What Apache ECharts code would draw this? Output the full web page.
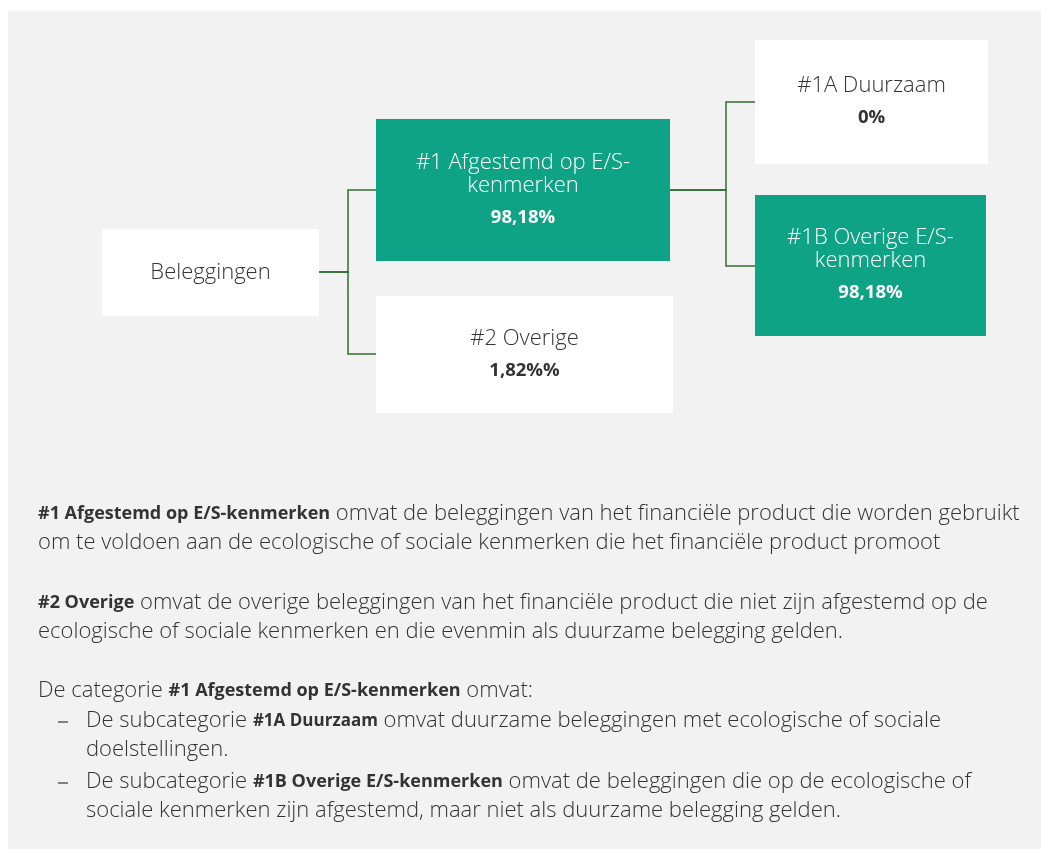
<!DOCTYPE html>
<html>
<head>
<meta charset="utf-8">
<script src="https://cdn.jsdelivr.net/npm/echarts@6/dist/echarts.min.js"></script>
<style>
  html, body { margin: 0; padding: 0; background: #fff; }
  #main { width: 1041px; height: 849px; }
</style>
</head>
<body>
<div id="main"></div>
<script>
// tree content
const nodeIds = ["root", "n1", "n2", "n1a", "n1b"];
const nodeLines = [
  ["Beleggingen"],
  ["#1 Afgestemd op E/S-", "kenmerken"],
  ["#2 Overige"],
  ["#1A Duurzaam"],
  ["#1B Overige E/S-", "kenmerken"],
];
const nodeValues = ["", "98,18%", "1,82%%", "0%", "98,18%"];
const nodeParents = [null, "root", "root", "n1", "n1"];
const nodeHighlighted = [false, true, false, false, true];

// explanation text below the diagram
const notes = [
  "{b|#1 Afgestemd op E/S-kenmerken} omvat de beleggingen van het financiële product die worden gebruikt",
  "om te voldoen aan de ecologische of sociale kenmerken die het financiële product promoot",
  "{b|#2 Overige} omvat de overige beleggingen van het financiële product die niet zijn afgestemd op de",
  "ecologische of sociale kenmerken en die evenmin als duurzame belegging gelden.",
  "De categorie {b|#1 Afgestemd op E/S-kenmerken} omvat:",
  "De subcategorie {s|#1A Duurzaam} omvat duurzame beleggingen met ecologische of sociale",
  "doelstellingen.",
  "De subcategorie {b|#1B Overige E/S-kenmerken} omvat de beleggingen die op de ecologische of",
  "sociale kenmerken zijn afgestemd, maar niet als duurzame belegging gelden.",
];
const noteBullets = [false, false, false, false, false, true, false, true, false];
const noteIndent = [false, false, false, false, false, true, true, true, true];

// layout
const boxes = {
  root: { x: 102, y: 229, w: 217, h: 87 },
  n1: { x: 376, y: 119, w: 294, h: 142 },
  n2: { x: 376, y: 296, w: 297, h: 117 },
  n1a: { x: 755, y: 40, w: 233, h: 124 },
  n1b: { x: 755, y: 195, w: 231, h: 141 },
};
const elbowX = { root: 348, n1: 726 };
const anchorY = { root: 272, n1: 190, n2: 354, n1a: 102, n1b: 266 };
const noteY = [514, 543, 603, 632, 691, 721, 750, 782, 811];

const TEAL = "#0fa386";
const LINE = "#2f6e32";
const TEXT = "#333333";
const FONT = "Open Sans";

const chart = echarts.init(document.getElementById("main"));
const elements = [];

elements.push({
  type: "rect",
  shape: { x: 8, y: 11, width: 1033, height: 838 },
  style: { fill: "#f2f2f2" },
  z: 0,
});

// connectors
nodeIds.forEach((id, i) => {
  const p = nodeParents[i];
  if (!p) return;
  const pb = boxes[p];
  const cb = boxes[id];
  elements.push({
    type: "polyline",
    shape: {
      points: [
        [pb.x + pb.w, anchorY[p]],
        [elbowX[p], anchorY[p]],
        [elbowX[p], anchorY[id]],
        [cb.x, anchorY[id]],
      ],
    },
    style: { stroke: LINE, lineWidth: 1.5, fill: null },
    z: 1,
  });
});

// boxes
nodeIds.forEach((id, i) => {
  const b = boxes[id];
  const hi = nodeHighlighted[i];
  elements.push({
    type: "rect",
    shape: { x: b.x, y: b.y, width: b.w, height: b.h },
    style: { fill: hi ? TEAL : "#ffffff" },
    z: 2,
  });
  const lines = nodeLines[i];
  const hasVal = nodeValues[i] !== "";
  const lh = 23;
  const total = lines.length * lh + (hasVal ? 32 : 0);
  const cx = b.x + b.w / 2;
  let y0 = b.y + b.h / 2 - total / 2 + lh / 2;
  if (!hasVal) y0 = b.y + b.h / 2;
  lines.forEach((t, k) => {
    elements.push({
      type: "text",
      x: cx,
      y: y0 + k * lh,
      style: {
        text: t,
        fill: hi ? "#ffffff" : TEXT,
        font: "300 22px '" + FONT + "'",
        align: "center",
        verticalAlign: "middle",
      },
      z: 3,
    });
  });
  if (hasVal) {
    elements.push({
      type: "text",
      x: cx,
      y: y0 + (lines.length - 1) * lh + 32,
      style: {
        text: nodeValues[i],
        fill: hi ? "#ffffff" : TEXT,
        font: "bold 18.5px '" + FONT + "'",
        align: "center",
        verticalAlign: "middle",
      },
      z: 3,
    });
  }
});

// notes
notes.forEach((t, i) => {
  const x = noteIndent[i] ? 86 : 38;
  elements.push({
    type: "text",
    x: x,
    y: noteY[i],
    style: {
      text: t,
      fill: TEXT,
      font: "300 22px '" + FONT + "'",
      verticalAlign: "middle",
      rich: {
        b: { fontFamily: FONT, fontWeight: "bold", fontSize: 18, fill: TEXT },
        s: { fontFamily: FONT, fontWeight: "bold", fontSize: 17, fill: TEXT },
      },
    },
    z: 3,
  });
  if (noteBullets[i]) {
    elements.push({
      type: "line",
      shape: { x1: 58, y1: noteY[i] + 1, x2: 68, y2: noteY[i] + 1 },
      style: { stroke: TEXT, lineWidth: 1.2 },
      z: 3,
    });
  }
});

chart.setOption({
  animation: false,
  graphic: { elements: elements },
});
</script>
</body>
</html>
